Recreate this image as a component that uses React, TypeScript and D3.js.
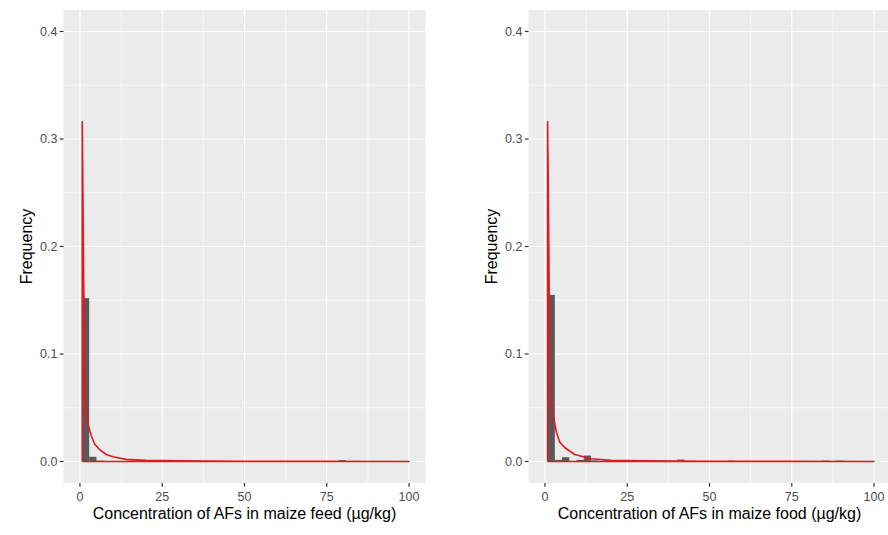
import React from "react";
import * as d3 from "d3";

// ---- data ----
const xTicks = [0, 25, 50, 75, 100];
const yTicks = [0, 0.1, 0.2, 0.3, 0.4];
const yTickLabels = ["0.0", "0.1", "0.2", "0.3", "0.4"];
const binWidth = 2.2;

const feedBinStart = [0.6, 2.8, 5.0, 25.8, 45.6, 65.4, 67.6, 78.6];
const feedBinFreq = [0.152, 0.0044, 0.0008, 0.0004, 0.0004, 0.0004, 0.0004, 0.0013];
const feedCurveX = [0.7, 0.7, 0.9, 1.1, 1.2, 1.35, 1.5, 1.8, 2.0, 2.5, 3.5, 4.5, 6, 8, 10, 14, 20, 30, 50, 75, 100];
const feedCurveY = [0, 0.316, 0.25, 0.18, 0.15, 0.1, 0.065, 0.05, 0.045, 0.034, 0.0235, 0.016, 0.011, 0.0065, 0.0045, 0.002, 0.0012, 0.0006, 0.0003, 0.0001, 0.00005];

const foodBinStart = [0.8, 3.0, 5.2, 9.6, 11.8, 14.0, 40.2, 55.6, 84.2, 88.6];
const foodBinFreq = [0.155, 0.0015, 0.004, 0.0015, 0.0055, 0.001, 0.0018, 0.0008, 0.0008, 0.0008];
const foodCurveX = [0.8, 0.8, 1.0, 1.3, 1.5, 1.8, 2.5, 3.5, 4.5, 6, 9, 14, 20, 30, 50, 75, 100];
const foodCurveY = [0, 0.316, 0.26, 0.156, 0.1, 0.058, 0.043, 0.027, 0.018, 0.013, 0.0065, 0.0025, 0.0012, 0.0006, 0.0003, 0.0001, 0.00005];

const xTitles = [
  "Concentration of AFs in maize feed (\u00b5g/kg)",
  "Concentration of AFs in maize food (\u00b5g/kg)",
];

const FONT = "'Liberation Sans', Arial, Helvetica, sans-serif";

type PanelProps = {
  left: number;
  binStart: number[];
  binFreq: number[];
  cx: number[];
  cy: number[];
  title: string;
};

const TOP = 10;
const BOTTOM = 483;
const WIDTH = 362;

function Panel({ left, binStart, binFreq, cx, cy, title }: PanelProps) {
  const x = d3.scaleLinear().domain([-5, 105]).range([left, left + WIDTH]);
  const y = d3.scaleLinear().domain([-0.02, 0.42]).range([BOTTOM, TOP]);
  const xMinor = [12.5, 37.5, 62.5, 87.5];
  const yMinor = [0.05, 0.15, 0.25, 0.35];
  const pts: [number, number][] = cx.map((v, i) => [v, cy[i]]);
  const closed: [number, number][] = [...pts, [cx[cx.length - 1], 0], [cx[0], 0]];
  const line = d3
    .line<[number, number]>()
    .x((d) => x(d[0]))
    .y((d) => y(d[1]));
  return (
    <g>
      <rect x={left} y={TOP} width={WIDTH} height={BOTTOM - TOP} fill="#EBEBEB" />
      {xMinor.map((v) => (
        <line key={"xm" + v} x1={x(v)} x2={x(v)} y1={TOP} y2={BOTTOM} stroke="#fff" strokeWidth={0.6} />
      ))}
      {yMinor.map((v) => (
        <line key={"ym" + v} x1={left} x2={left + WIDTH} y1={y(v)} y2={y(v)} stroke="#fff" strokeWidth={0.6} />
      ))}
      {xTicks.map((v) => (
        <line key={"xM" + v} x1={x(v)} x2={x(v)} y1={TOP} y2={BOTTOM} stroke="#fff" strokeWidth={1.2} />
      ))}
      {yTicks.map((v) => (
        <line key={"yM" + v} x1={left} x2={left + WIDTH} y1={y(v)} y2={y(v)} stroke="#fff" strokeWidth={1.2} />
      ))}
      {binStart.map((b, i) => (
        <rect
          key={"b" + i}
          x={x(b)}
          y={y(binFreq[i])}
          width={x(b + binWidth) - x(b)}
          height={y(0) - y(binFreq[i])}
          fill="#595959"
        />
      ))}
      <path d={line(closed) || ""} fill="none" stroke="#DF1A22" strokeWidth={1.6} strokeLinejoin="round" />
      {/* axes ticks */}
      {xTicks.map((v) => (
        <g key={"xt" + v}>
          <line x1={x(v)} x2={x(v)} y1={BOTTOM} y2={BOTTOM + 3.7} stroke="#333" strokeWidth={1.2} />
          <text x={x(v)} y={BOTTOM + 18} textAnchor="middle" fontSize={12.5} fill="#4D4D4D" fontFamily={FONT}>
            {v}
          </text>
        </g>
      ))}
      {yTicks.map((v, i) => (
        <g key={"yt" + v}>
          <line x1={left - 3.7} x2={left} y1={y(v)} y2={y(v)} stroke="#333" strokeWidth={1.2} />
          <text x={left - 6} y={y(v) + 4.4} textAnchor="end" fontSize={12.5} fill="#4D4D4D" fontFamily={FONT}>
            {yTickLabels[i]}
          </text>
        </g>
      ))}
      <text
        x={(x(0) + x(100)) / 2}
        y={519}
        textAnchor="middle"
        fontSize={16}
        fill="#000"
        fontFamily={FONT}
      >
        {title}
      </text>
      <text
        transform={`translate(${left - 32},${(TOP + BOTTOM) / 2}) rotate(-90)`}
        textAnchor="middle"
        fontSize={16}
        fill="#000"
        fontFamily={FONT}
      >
        Frequency
      </text>
    </g>
  );
}

export default function App() {
  return (
    <svg
      width={888}
      height={535}
      viewBox="0 0 888 535"
      style={{ display: "block", position: "absolute", left: 0, top: 0, background: "#fff" }}
    >
      <rect x={0} y={0} width={888} height={535} fill="#fff" />
      <Panel left={63.5} binStart={feedBinStart} binFreq={feedBinFreq} cx={feedCurveX} cy={feedCurveY} title={xTitles[0]} />
      <Panel left={528.5} binStart={foodBinStart} binFreq={foodBinFreq} cx={foodCurveX} cy={foodCurveY} title={xTitles[1]} />
    </svg>
  );
}
